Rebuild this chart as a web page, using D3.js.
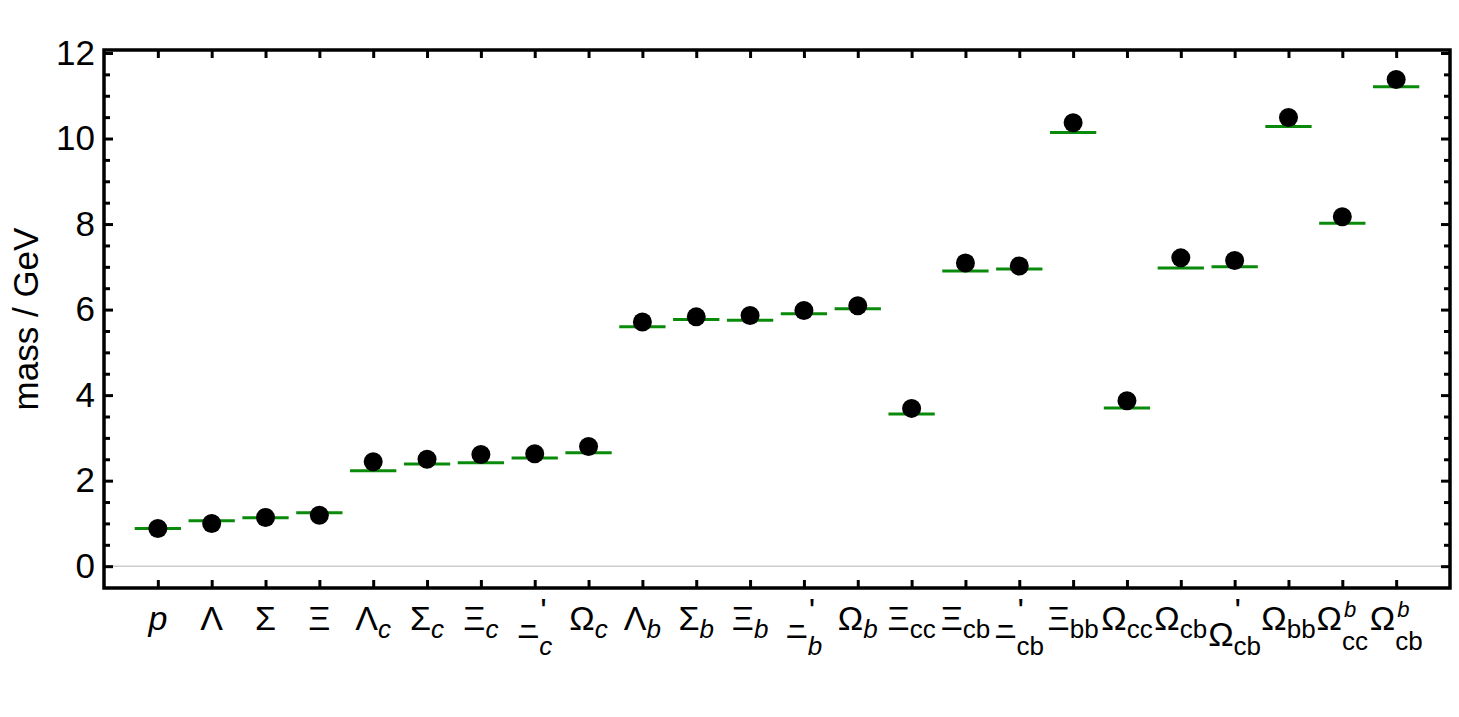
<!DOCTYPE html>
<html>
<head>
<meta charset="utf-8">
<script src="https://cdn.jsdelivr.net/npm/d3@7"></script>
<style>
  body { margin: 0; background: #fff; }
  text { font-family: "Liberation Sans", Arial, sans-serif; fill: #000; }
</style>
</head>
<body>
<div id="chart"></div>
<script>
// baryon labels: base symbol, subscript, superscript
var baseSym = ["p","Λ","Σ","Ξ","Λ","Σ","Ξ","Ξ","Ω","Λ","Σ","Ξ","Ξ","Ω","Ξ","Ξ","Ξ","Ξ","Ω","Ω","Ω","Ω","Ω","Ω"];
var subText = ["","","","","c","c","c","c","c","b","b","b","b","b","cc","cb","cb","bb","cc","cb","cb","bb","cc","cb"];
var supText = ["","","","","","","","'","","","","","'","","","","'","","","","'","","b","b"];

// black dots (lattice) and green bars (experiment / model)
var dotMass = [0.88,1.00,1.14,1.19,2.44,2.50,2.61,2.63,2.80,5.71,5.83,5.86,5.98,6.09,3.69,7.09,7.02,10.37,3.87,7.21,7.15,10.49,8.17,11.38];
var barMass = [0.88,1.06,1.13,1.25,2.23,2.39,2.42,2.53,2.65,5.60,5.77,5.75,5.90,6.02,3.56,6.90,6.95,10.14,3.70,6.97,7.00,10.28,8.02,11.21];

var yMajor = [0,2,4,6,8,10,12];

var W = 1459, H = 717;
var margin = {top: 50, right: 9, bottom: 129, left: 104};

var svg = d3.select("#chart")
    .append("svg")
        .attr("width", W)
        .attr("height", H);

var x = d3.scaleLinear()
    .domain([0, baseSym.length + 1])
    .range([margin.left, W - margin.right]);

var y = d3.scaleLinear()
    .domain([-0.51, 12.07])
    .range([H - margin.bottom, margin.top]);

var idx = d3.range(1, baseSym.length + 1);

// zero line
svg.append("line")
    .attr("x1", x(0)).attr("x2", x(baseSym.length + 1))
    .attr("y1", y(0)).attr("y2", y(0))
    .style("stroke", "#cccccc")
    .style("stroke-width", 1.5);

// green bars
var half = 0.43;
svg.selectAll("line.bar")
    .data(barMass)
    .enter()
    .append("line")
    .attr("class", "bar")
    .attr("x1", function(d, i) { return x(i + 1 - half); })
    .attr("x2", function(d, i) { return x(i + 1 + half); })
    .attr("y1", function(d) { return y(d); })
    .attr("y2", function(d) { return y(d); })
    .style("stroke", "#0a8a0a")
    .style("stroke-width", 3);

// dots
svg.selectAll("circle.dot")
    .data(dotMass)
    .enter()
    .append("circle")
    .attr("class", "dot")
    .attr("cx", function(d, i) { return x(i + 1); })
    .attr("cy", function(d) { return y(d); })
    .attr("r", 9.5)
    .style("fill", "#000");

// axes, ticks pointing inwards
var minor = d3.range(0, 12.01, 0.5).filter(function(v) { return v % 2 !== 0; });

function styleAxis(g) {
    g.select(".domain").remove();
    g.selectAll(".tick line").style("stroke", "#000").style("stroke-width", 3);
    g.selectAll(".tick text").style("font-size", "35px").style("font-family", "'Liberation Sans', Arial, sans-serif");
}

svg.append("g")
    .attr("transform", "translate(" + margin.left + ",0)")
    .call(d3.axisLeft(y).tickValues(yMajor).tickSize(-9).tickPadding(9))
    .call(styleAxis);
svg.append("g")
    .attr("transform", "translate(" + margin.left + ",0)")
    .call(d3.axisLeft(y).tickValues(minor).tickSize(-6).tickFormat(""))
    .call(styleAxis);
svg.append("g")
    .attr("transform", "translate(" + (W - margin.right) + ",0)")
    .call(d3.axisRight(y).tickValues(yMajor).tickSize(-9).tickFormat(""))
    .call(styleAxis);
svg.append("g")
    .attr("transform", "translate(" + (W - margin.right) + ",0)")
    .call(d3.axisRight(y).tickValues(minor).tickSize(-6).tickFormat(""))
    .call(styleAxis);
svg.append("g")
    .attr("transform", "translate(0," + (H - margin.bottom) + ")")
    .call(d3.axisBottom(x).tickValues(idx).tickSize(-8).tickFormat(""))
    .call(styleAxis);
svg.append("g")
    .attr("transform", "translate(0," + margin.top + ")")
    .call(d3.axisTop(x).tickValues(idx).tickSize(-8).tickFormat(""))
    .call(styleAxis);

// frame
svg.append("rect")
    .attr("x", margin.left)
    .attr("y", margin.top)
    .attr("width", W - margin.left - margin.right)
    .attr("height", H - margin.top - margin.bottom)
    .style("fill", "none")
    .style("stroke", "#000")
    .style("stroke-width", 3.5);

// y label
svg.append("text")
    .attr("transform", "translate(38," + 319 + ") rotate(-90)")
    .style("text-anchor", "middle")
    .style("font-size", "35px")
    .text("mass / GeV");

// x labels, built from pieces
var baseSize = 34, subSize = 26, supSize = 22;
var labelY = 630;

// clip hiding the top bar of a lowered Xi (as in the original rendering)
svg.append("defs").append("clipPath")
    .attr("id", "xiclip")
    .attr("clipPathUnits", "userSpaceOnUse")
    .append("rect")
    .attr("x", -60).attr("y", -8).attr("width", 120).attr("height", 60);

baseSym.forEach(function(b, i) {
    var sub = subText[i], sup = supText[i];
    var primed = sup === "'";
    var g = svg.append("g");

    var baseShift = 0, subShift = 8, supShift = -8;
    if (primed) {
        baseShift = b === "Ξ" ? 8 : 16;
        subShift = 25;
        supShift = -8;
    } else if (sup) {
        subShift = 20;
        supShift = -13;
    }

    var t = g.append("text")
        .attr("x", 0)
        .attr("y", baseShift)
        .style("font-size", baseSize + "px")
        .style("font-style", b === "p" ? "italic" : "normal")
        .text(b);
    if (primed && b === "Ξ") t.attr("clip-path", "url(#xiclip)");
    var bw = t.node().getComputedTextLength();

    var w = bw;
    if (sub) {
        var s = g.append("text")
            .attr("x", bw)
            .attr("y", subShift)
            .style("font-size", subSize + "px")
            .style("font-style", sub.length === 1 ? "italic" : "normal")
            .text(sub);
        w = Math.max(w, bw + s.node().getComputedTextLength());
    }
    if (sup) {
        var p = g.append("text")
            .attr("x", bw + (primed ? 1 : 2))
            .attr("y", supShift)
            .style("font-size", (primed ? baseSize : supSize) + "px")
            .style("font-style", primed ? "normal" : "italic")
            .text(sup);
        w = Math.max(w, bw + p.node().getComputedTextLength());
    }
    g.attr("transform", "translate(" + (x(i + 1) - w / 2) + "," + labelY + ")");
});
</script>
</body>
</html>
